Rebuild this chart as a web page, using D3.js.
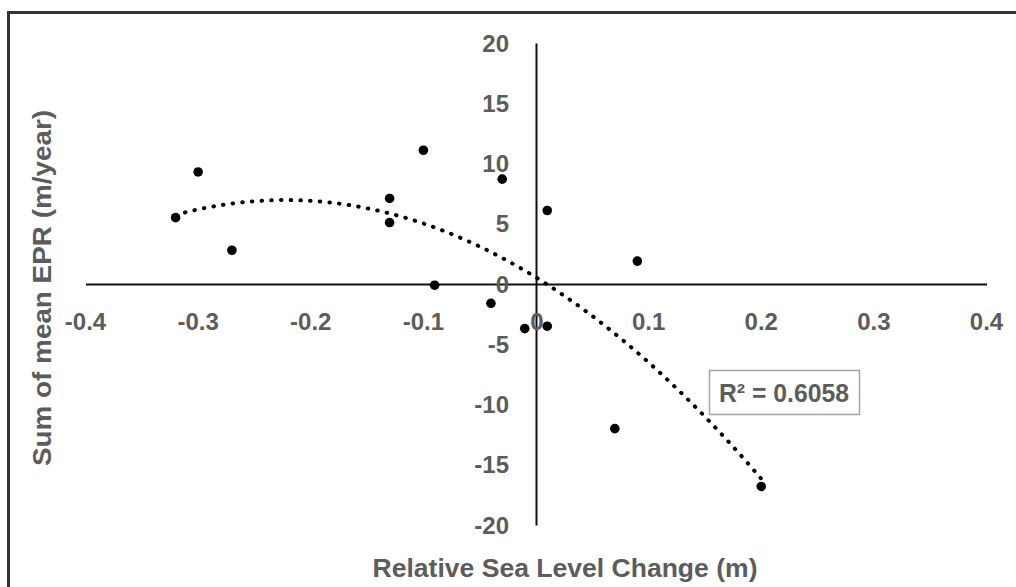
<!DOCTYPE html>
<html>
<head>
<meta charset="utf-8">
<script src="https://cdn.jsdelivr.net/npm/d3@7"></script>
<style>
  html, body { margin: 0; padding: 0; background: #fff; }
  svg { display: block; }
</style>
</head>
<body>
<svg id="chart" width="1016" height="587"></svg>
<script>
// ---- Data ----
const seaLevelChange = [-0.32, -0.30, -0.27, -0.13, -0.13, -0.10, -0.09, -0.03, -0.04, -0.01, 0.01, 0.01, 0.09, 0.07, 0.20];
const sumMeanEPR     = [ 5.5,   9.3,   2.8,   7.1,   5.1,  11.1,  -0.1,   8.7,  -1.6,  -3.7,  6.1, -3.5,  1.9, -12.0, -16.8];
const xTicks = [-0.4, -0.3, -0.2, -0.1, 0, 0.1, 0.2, 0.3, 0.4];
const yTicks = [-20, -15, -10, -5, 0, 5, 10, 15, 20];
const xTickLabels = ["-0.4", "-0.3", "-0.2", "-0.1", "0", "0.1", "0.2", "0.3", "0.4"];
const yTickLabels = ["-20", "-15", "-10", "-5", "0", "5", "10", "15", "20"];
const rSquaredLabel = "R\u00B2 = 0.6058";
const xTitle = "Relative Sea Level Change (m)";
const yTitle = "Sum of mean EPR (m/year)";

const points = seaLevelChange.map((x, i) => ({x, y: sumMeanEPR[i]}));

// ---- Quadratic least-squares trendline from the data ----
function fitQuadratic(pts) {
  let n = pts.length, sx=0, sx2=0, sx3=0, sx4=0, sy=0, sxy=0, sx2y=0;
  pts.forEach(p => {
    const x = p.x, y = p.y;
    sx += x; sx2 += x*x; sx3 += x*x*x; sx4 += x*x*x*x;
    sy += y; sxy += x*y; sx2y += x*x*y;
  });
  const M = [[n, sx, sx2, sy], [sx, sx2, sx3, sxy], [sx2, sx3, sx4, sx2y]];
  for (let i = 0; i < 3; i++) {
    let piv = i;
    for (let r = i+1; r < 3; r++) if (Math.abs(M[r][i]) > Math.abs(M[piv][i])) piv = r;
    [M[i], M[piv]] = [M[piv], M[i]];
    for (let r = 0; r < 3; r++) {
      if (r === i) continue;
      const f = M[r][i] / M[i][i];
      for (let c = i; c < 4; c++) M[r][c] -= f * M[i][c];
    }
  }
  return {c: M[0][3]/M[0][0], b: M[1][3]/M[1][1], a: M[2][3]/M[2][2]};
}
const coef = fitQuadratic(points);

// ---- Layout ----
const svg = d3.select("#chart");
const x = d3.scaleLinear().domain([-0.4, 0.4]).range([85.5, 986.5]);
const y = d3.scaleLinear().domain([-20, 20]).range([525, 43]);

const textColor = "#5c5c5c";
const font = "'Liberation Sans', Arial, sans-serif";

// Frame
svg.append("rect")
  .attr("x", 8.5).attr("y", 12.5)
  .attr("width", 1100).attr("height", 700)
  .attr("fill", "none").attr("stroke", "#333").attr("stroke-width", 3);

// Axes (crossing at origin)
const xAxis = d3.axisBottom(x).tickValues([]).tickSize(0).tickSizeOuter(0);
const yAxis = d3.axisLeft(y).tickValues([]).tickSize(0).tickSizeOuter(0);
svg.append("g").attr("transform", `translate(0,${y(0)})`).call(xAxis)
  .select(".domain").attr("stroke", "#111").attr("stroke-width", 2);
svg.append("g").attr("transform", `translate(${x(0)},0)`).call(yAxis)
  .select(".domain").attr("stroke", "#111").attr("stroke-width", 2);

// X tick labels (below horizontal axis)
svg.append("g").selectAll("text").data(xTicks).join("text")
  .attr("x", d => x(d) + (d === 0 ? 1 : 0))
  .attr("y", y(0) + 46)
  .attr("text-anchor", "middle")
  .attr("font-family", font).attr("font-weight", "bold")
  .attr("font-size", 24).attr("fill", textColor)
  .text((d, i) => xTickLabels[i]);

// Y tick labels (left of vertical axis)
svg.append("g").selectAll("text").data(yTicks).join("text")
  .attr("x", x(0) - 27)
  .attr("y", d => y(d))
  .attr("dy", "0.36em")
  .attr("text-anchor", "end")
  .attr("font-family", font).attr("font-weight", "bold")
  .attr("font-size", 24).attr("fill", textColor)
  .text((d, i) => yTickLabels[i]);

// Trendline (dotted polynomial)
const xMin = d3.min(seaLevelChange), xMax = d3.max(seaLevelChange);
const trend = d3.range(0, 201).map(i => {
  const xv = xMin + (xMax - xMin) * i / 200;
  return [xv, coef.a*xv*xv + coef.b*xv + coef.c];
});
svg.append("path")
  .datum(trend)
  .attr("d", d3.line().x(d => x(d[0])).y(d => y(d[1])))
  .attr("fill", "none").attr("stroke", "#000")
  .attr("stroke-width", 4).attr("stroke-linecap", "round")
  .attr("stroke-dasharray", "0.5 9.2");

// Points
svg.append("g").selectAll("circle").data(points).join("circle")
  .attr("cx", d => x(d.x)).attr("cy", d => y(d.y))
  .attr("r", 4.8).attr("fill", "#000");

// R² label box
const box = svg.append("g");
box.append("rect")
  .attr("x", 709.5).attr("y", 370.5).attr("width", 150).attr("height", 44)
  .attr("fill", "#fff").attr("stroke", "#a6a6a6").attr("stroke-width", 1.5);
box.append("text")
  .attr("x", 784).attr("y", 393).attr("dy", "0.36em")
  .attr("text-anchor", "middle")
  .attr("font-family", font).attr("font-weight", "bold")
  .attr("font-size", 25).attr("fill", textColor)
  .attr("textLength", 130).attr("lengthAdjust", "spacingAndGlyphs")
  .text(rSquaredLabel);

// Axis titles
svg.append("text")
  .attr("x", 565).attr("y", 568).attr("dy", "0.36em")
  .attr("text-anchor", "middle")
  .attr("font-family", font).attr("font-weight", "bold")
  .attr("font-size", 25).attr("fill", textColor)
  .attr("textLength", 385).attr("lengthAdjust", "spacingAndGlyphs")
  .text(xTitle);

svg.append("text")
  .attr("transform", "translate(42,288) rotate(-90)")
  .attr("dy", "0.36em")
  .attr("text-anchor", "middle")
  .attr("font-family", font).attr("font-weight", "bold")
  .attr("font-size", 25).attr("fill", textColor)
  .attr("textLength", 356).attr("lengthAdjust", "spacingAndGlyphs")
  .text(yTitle);
</script>
</body>
</html>
